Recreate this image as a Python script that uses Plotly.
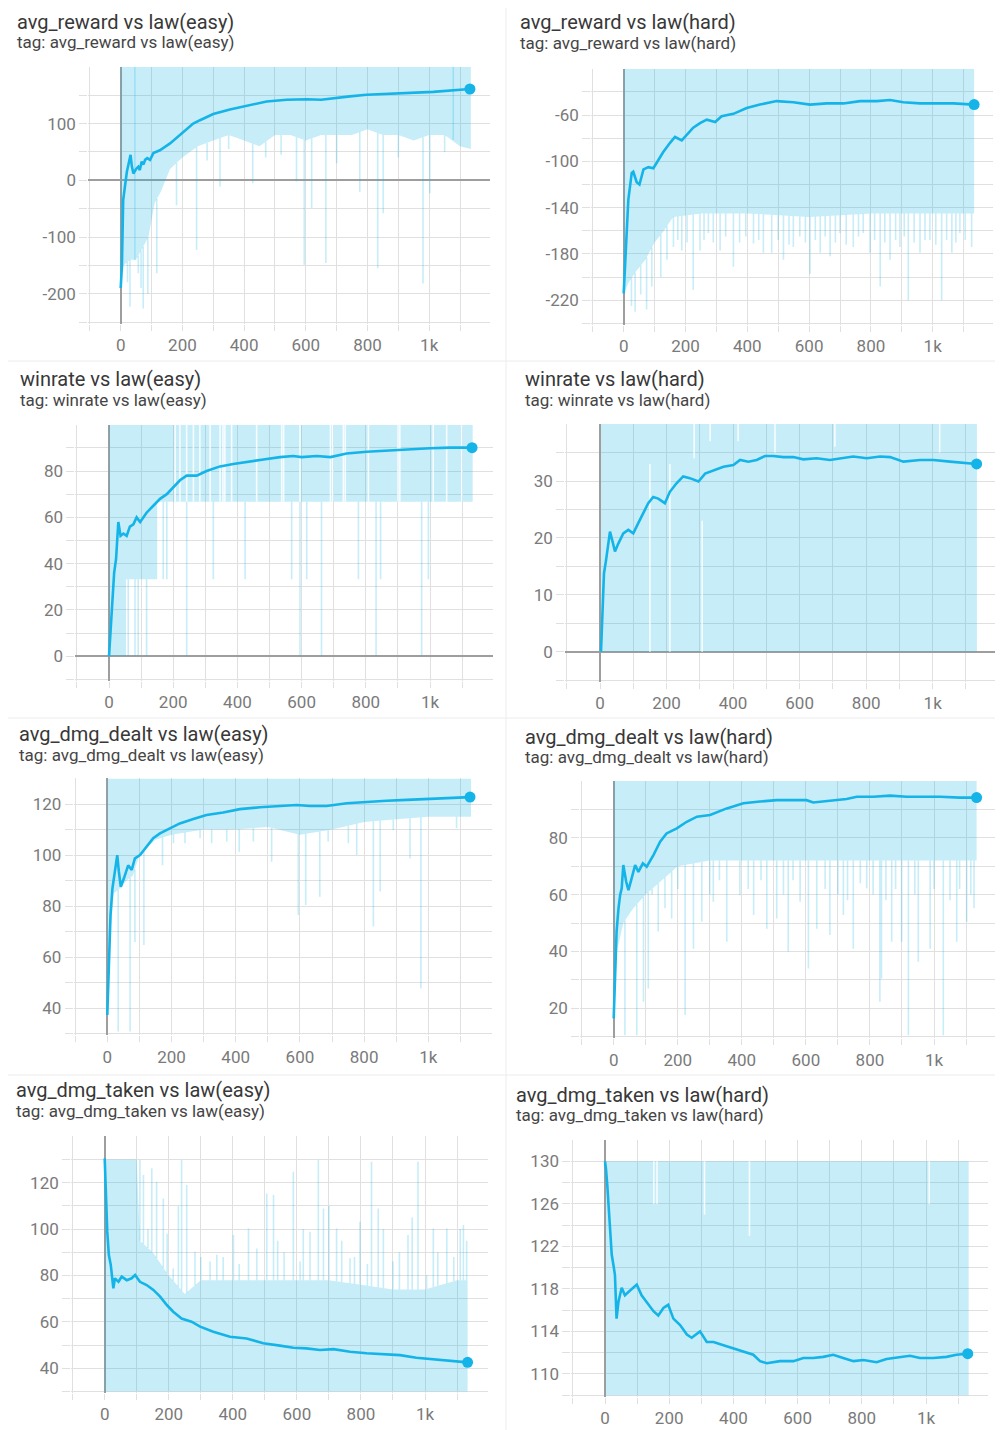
import numpy as np
import plotly.graph_objects as go

PAGE_W, PAGE_H = 1003, 1430
OFF = 8                      # default page margin of the html body
W, H = PAGE_W - OFF, PAGE_H - OFF

# ---------------- shared tick labels ----------------
x_tick_vals = [-100, 0, 100, 200, 300, 400, 500, 600, 700, 800, 900, 1000, 1100]
x_tick_text = ["", "0", "", "200", "", "400", "", "600", "", "800", "", "1k", ""]

# ---------------- 1. avg_reward vs law(easy) ----------------
reward_easy_x = [0, 4, 8, 14, 20, 26, 32, 36, 41, 50, 57, 62, 68, 74, 79, 86, 95, 106, 127, 160,
                 192, 235, 257, 300, 354, 408, 473, 538, 603, 650, 689, 743, 797, 905, 1013, 1132]
reward_easy_y = [-190, -150, -35, -5, 15, 30, 45, 25, 12, 20, 24, 18, 33, 28, 36, 39, 36, 48, 53, 65,
                 80, 100, 106, 117, 125, 131, 139, 142, 143, 142, 144, 148, 151, 154, 156, 161]
reward_easy_band_x = [0, 10, 30, 50, 70, 90, 110, 130, 160, 200, 250, 300, 350, 400, 450, 500, 550,
                      600, 650, 700, 750, 800, 850, 900, 950, 1000, 1050, 1100, 1135]
reward_easy_band_lo = [-190, -150, -140, -140, -120, -100, -40, -20, 20, 40, 60, 70, 80, 70, 60, 80, 80,
                       70, 80, 80, 80, 90, 80, 80, 70, 80, 80, 60, 55]
reward_easy_band_hi = [200] * 29
reward_easy_spike_x = [22, 30, 46, 57, 66, 73, 88, 117, 181, 246, 280, 322, 350, 428, 470, 520, 570, 595,
                       619, 665, 700, 775, 833, 851, 900, 980, 1002, 1050, 1078]
reward_easy_spike_y = [-180, -223, -140, -164, -190, -226, -200, -164, -44, -123, 35, -11, 55, -5, 40, 45,
                       -2, -149, -49, -146, 30, -20, -155, -58, 40, -182, -23, 50, 71]
reward_easy_gap_x, reward_easy_gap_lo, reward_easy_gap_hi = [], [], []
reward_easy_ytick_vals = [-250, -200, -150, -100, -50, 0, 50, 100, 150]
reward_easy_ytick_text = ["", "-200", "", "-100", "", "0", "", "100", ""]

# ---------------- 2. avg_reward vs law(hard) ----------------
reward_hard_x = [0, 4, 10, 15, 26, 31, 42, 51, 64, 80, 96, 112, 128, 150, 166, 188, 204, 225, 247, 269,
                 296, 317, 355, 398, 441, 495, 549, 603, 657, 711, 765, 819, 862, 905, 959, 1013, 1067, 1134]
reward_hard_y = [-214, -191, -162, -133, -110, -109, -118, -120, -107, -105, -106, -99, -92, -84, -79, -82,
                 -77, -71, -67, -64, -66, -61, -59, -54, -51, -48, -49, -51, -50, -50, -48, -48, -47, -49,
                 -50, -50, -50, -51]
reward_hard_band_x = [0, 15, 40, 70, 100, 130, 160, 250, 400, 600, 800, 1000, 1134]
reward_hard_band_lo = [-215, -205, -195, -185, -170, -160, -148, -145, -145, -148, -145, -145, -145]
reward_hard_band_hi = [-20] * 13
reward_hard_spike_x = [25, 37, 55, 74, 91, 120, 140, 161, 175, 188, 205, 225, 247, 260, 274, 290, 312, 330,
                       355, 375, 395, 420, 437, 452, 479, 500, 517, 535, 549, 570, 588, 603, 620, 636, 652,
                       668, 685, 700, 720, 743, 760, 775, 797, 812, 830, 845, 862, 880, 894, 908, 921, 940,
                       959, 975, 991, 1010, 1029, 1045, 1062, 1075, 1088, 1105, 1126]
reward_hard_spike_y = [-225, -230, -215, -228, -208, -200, -185, -174, -168, -177, -170, -211, -177, -168,
                       -162, -170, -177, -165, -191, -170, -165, -171, -168, -179, -179, -168, -185, -172,
                       -174, -165, -170, -197, -168, -179, -165, -182, -170, -162, -172, -174, -165, -162,
                       -179, -168, -208, -170, -185, -168, -174, -165, -220, -170, -179, -168, -168, -172,
                       -220, -168, -179, -170, -162, -168, -174]
reward_hard_gap_x, reward_hard_gap_lo, reward_hard_gap_hi = [], [], []
reward_hard_ytick_vals = [-240, -220, -200, -180, -160, -140, -120, -100, -80, -60, -40]
reward_hard_ytick_text = ["", "-220", "", "-180", "", "-140", "", "-100", "", "-60", ""]

# ---------------- 3. winrate vs law(easy) ----------------
winrate_easy_x = [0, 6, 11, 16, 22, 29, 36, 45, 55, 65, 76, 86, 97, 117, 138, 159, 180, 200, 221, 242,
                  273, 304, 346, 387, 429, 481, 533, 574, 600, 647, 690, 740, 803, 864, 937, 1000, 1062, 1131]
winrate_easy_y = [0, 13, 27, 36, 42, 58, 52, 53, 52, 56, 57, 60, 58, 62, 65, 68, 70, 73, 76, 78,
                  78, 80, 82, 83, 84, 85, 86, 86.5, 86, 86.5, 86, 87.6, 88.3, 88.8, 89.4, 89.8, 90.1, 90.1]
winrate_easy_band_x = [0, 53, 53, 150, 150, 1133]
winrate_easy_band_lo = [0, 0, 33.3, 33.3, 66.7, 66.7]
winrate_easy_band_hi = [100] * 6
winrate_easy_spike_x = [60, 81, 91, 117, 169, 180, 242, 325, 424, 569, 595, 616, 662, 777, 832, 846, 974, 995]
winrate_easy_spike_y = [0, 0, 0, 0, 33.3, 33.3, 0, 33.3, 33.3, 33.3, 0, 33.3, 0, 33.3, 0, 33.3, 0, 33.3]
winrate_easy_gap_x = [206, 221, 242, 263, 283, 315, 346, 355, 361, 382, 460, 538, 544, 595, 690, 697, 730,
                      736, 808, 900, 906, 1010, 1052, 1099]
winrate_easy_gap_lo = [66.7] * 24
winrate_easy_gap_hi = [100] * 24
winrate_easy_ytick_vals = [-10, 0, 10, 20, 30, 40, 50, 60, 70, 80, 90]
winrate_easy_ytick_text = ["", "0", "", "20", "", "40", "", "60", "", "80", ""]

# ---------------- 4. winrate vs law(hard) ----------------
winrate_hard_x = [3, 7, 12, 18, 25, 30, 38, 45, 55, 70, 85, 100, 115, 130, 145, 160, 175, 195, 210, 230,
                  250, 270, 296, 316, 341, 371, 401, 421, 446, 471, 496, 521, 551, 581, 611, 651, 691, 721,
                  761, 802, 842, 872, 912, 962, 1002, 1052, 1102, 1132]
winrate_hard_y = [0, 6.7, 13.8, 16, 19.6, 21.1, 19.3, 17.6, 19, 20.8, 21.4, 20.8, 22.6, 24.3, 26.1, 27.2,
                  26.9, 26.1, 28.1, 29.6, 30.8, 30.5, 29.9, 31.3, 31.9, 32.5, 32.8, 33.7, 33.4, 33.7, 34.4,
                  34.4, 34.2, 34.2, 33.8, 34, 33.7, 34, 34.3, 34, 34.3, 34.2, 33.4, 33.7, 33.7, 33.4, 33.1, 33]
winrate_hard_band_x = [3, 1133]
winrate_hard_band_lo = [0, 0]
winrate_hard_band_hi = [40, 40]
winrate_hard_spike_x, winrate_hard_spike_y = [], []
winrate_hard_gap_x = [150, 210, 283, 307, 331, 415, 526, 706, 1021]
winrate_hard_gap_lo = [0, 0, 34, 0, 37, 37, 35, 36, 35]
winrate_hard_gap_hi = [33, 33, 40, 23, 40, 40, 40, 40, 40]
winrate_hard_ytick_vals = [-5, 0, 5, 10, 15, 20, 25, 30, 35]
winrate_hard_ytick_text = ["", "0", "", "10", "", "20", "", "30", ""]

# ---------------- 5. avg_dmg_dealt vs law(easy) ----------------
dealt_easy_x = [0, 5, 10, 16, 24, 31, 36, 42, 52, 65, 76, 86, 102, 122, 143, 164, 195, 226, 268, 309,
                361, 413, 475, 537, 590, 631, 683, 746, 808, 870, 933, 995, 1057, 1130]
dealt_easy_y = [37.4, 57, 76.5, 87, 94.8, 100, 93.5, 87.6, 91, 96, 94.2, 98.7, 100, 103.3, 106.6, 108.5,
                110.5, 112.4, 114.1, 115.7, 116.7, 118, 118.7, 119.3, 119.6, 119.2, 119.2, 120.3, 120.9,
                121.3, 121.6, 122, 122.2, 122.7]
dealt_easy_band_x = [0, 10, 20, 40, 60, 80, 100, 150, 200, 300, 400, 500, 600, 700, 800, 900, 1000, 1100, 1133]
dealt_easy_band_lo = [37, 70, 85, 87, 90, 92, 100, 106, 108, 110, 110, 111, 108, 110, 113, 114, 115, 115, 115]
dealt_easy_band_hi = [130] * 19
dealt_easy_spike_x = [34, 71, 86, 114, 172, 206, 242, 289, 325, 372, 411, 455, 512, 595, 618, 662, 688,
                      751, 777, 829, 850, 891, 943, 977, 1088]
dealt_easy_spike_y = [30.9, 30.9, 66, 64.8, 96, 104.6, 104.6, 106.6, 104.6, 105.3, 101.3, 105.3, 97.4,
                      76.5, 80.5, 83.7, 105.3, 104.6, 100, 72, 85.7, 109.8, 98.7, 47.8, 110.5]
dealt_easy_gap_x, dealt_easy_gap_lo, dealt_easy_gap_hi = [], [], []
dealt_easy_ytick_vals = [30, 40, 50, 60, 70, 80, 90, 100, 110, 120]
dealt_easy_ytick_text = ["", "40", "", "60", "", "80", "", "100", "", "120"]

# ---------------- 6. avg_dmg_dealt vs law(hard) ----------------
dealt_hard_x = [0, 4, 9, 15, 20, 25, 30, 39, 46, 56, 67, 77, 91, 103, 124, 145, 165, 197, 228, 260,
                301, 353, 405, 457, 509, 561, 602, 623, 675, 727, 759, 811, 863, 915, 967, 1019, 1081, 1133]
dealt_hard_y = [16.5, 29.4, 47, 55.2, 59.8, 62.2, 70.4, 64.5, 61.6, 65.7, 70.4, 68, 71, 69.8, 73.9, 78.6,
                81.5, 83.3, 85.6, 87.4, 88, 90.3, 92.1, 92.7, 93.2, 93.2, 93.2, 92.4, 92.9, 93.6, 94.4,
                94.4, 94.8, 94.4, 94.4, 94.4, 94.1, 94.1]
dealt_hard_band_x = [0, 10, 30, 60, 100, 150, 200, 300, 1133]
dealt_hard_band_lo = [16, 40, 50, 55, 60, 65, 70, 72, 72]
dealt_hard_band_hi = [100] * 9
dealt_hard_spike_x = [35, 72, 93, 108, 120, 139, 160, 181, 200, 223, 249, 275, 300, 311, 330, 353, 394, 420,
                      437, 460, 478, 509, 530, 545, 560, 582, 608, 634, 660, 675, 700, 717, 730, 748, 770,
                      790, 810, 831, 836, 850, 868, 880, 899, 920, 940, 951, 988, 1000, 1029, 1050, 1071,
                      1080, 1102, 1115, 1125]
dealt_hard_spike_y = [10.6, 10.6, 22.3, 27, 60, 47, 55.2, 51.6, 62, 17.7, 41, 50.5, 60, 57.5, 65, 43.4,
                      59.8, 62, 52.8, 65, 48, 51.6, 60, 40, 65, 57.5, 34, 48, 62, 45.8, 60, 52.8, 58, 41,
                      64, 62.2, 60, 22.3, 30.5, 58, 43.4, 62, 43.4, 10.6, 60, 36.4, 41, 62, 10.6, 58,
                      43.4, 62, 50.5, 60, 55.2]
dealt_hard_gap_x, dealt_hard_gap_lo, dealt_hard_gap_hi = [], [], []
dealt_hard_ytick_vals = [10, 20, 30, 40, 50, 60, 70, 80, 90]
dealt_hard_ytick_text = ["", "20", "", "40", "", "60", "", "80", ""]

# ---------------- 7. avg_dmg_taken vs law(easy) ----------------
taken_easy_x = [0, 4, 8, 13, 19, 27, 32, 43, 53, 69, 84, 95, 110, 131, 152, 173, 194, 214, 240, 271,
                298, 339, 391, 443, 495, 547, 589, 630, 672, 714, 766, 818, 870, 922, 973, 1026, 1078, 1133]
taken_easy_y = [130.5, 111.8, 98.9, 88.8, 84.5, 74.5, 78.8, 77.3, 79.5, 78, 78.8, 80.2, 77.3, 75.9, 73.8,
                70.9, 67.3, 64.4, 61.5, 60.1, 58, 55.8, 53.6, 52.9, 50.8, 49.8, 48.9, 48.6, 47.9, 48.3,
                47.2, 46.5, 46, 45.7, 44.6, 44, 43.2, 42.6]
taken_easy_band_x = [0, 100, 110, 150, 200, 250, 300, 400, 500, 600, 700, 800, 900, 1000, 1100, 1133]
taken_easy_band_hi = [130, 130, 95, 90, 80, 72, 78, 78, 78, 78, 78, 76, 74, 74, 78, 78]
taken_easy_band_lo = [30] * 16
taken_easy_spike_x = [110, 121, 135, 147, 162, 183, 195, 214, 230, 240, 256, 282, 300, 329, 350, 370, 402,
                      420, 449, 475, 506, 527, 540, 560, 589, 610, 620, 641, 667, 683, 700, 724, 740, 766,
                      780, 797, 820, 833, 854, 870, 900, 920, 947, 960, 978, 1005, 1026, 1040, 1068, 1090,
                      1110, 1120, 1130]
taken_easy_spike_y = [129.8, 123.3, 100, 126.2, 120.4, 113.2, 98, 83, 110, 129.8, 119, 90.3, 88, 86, 89, 88,
                      97.5, 85, 100.3, 91.7, 115.4, 114.7, 95, 90, 124.7, 86, 100, 98.9, 129.8, 108.9, 110,
                      100.3, 95, 87.4, 88, 103.2, 85, 129, 108.9, 100, 86, 90, 97.5, 105, 129, 80.2, 100.3,
                      90, 100.3, 88, 100, 101.8, 95]
taken_easy_gap_x, taken_easy_gap_lo, taken_easy_gap_hi = [], [], []
taken_easy_ytick_vals = [30, 40, 50, 60, 70, 80, 90, 100, 110, 120, 130]
taken_easy_ytick_text = ["", "40", "", "60", "", "80", "", "100", "", "120", ""]

# ---------------- 8. avg_dmg_taken vs law(hard) ----------------
taken_hard_x = [0, 3, 7, 11, 16, 21, 26, 31, 36, 42, 52, 62, 73, 88, 99, 114, 130, 151, 166, 182, 197,
                213, 234, 255, 270, 296, 317, 338, 369, 400, 431, 462, 483, 504, 545, 587, 618, 649, 680,
                711, 742, 774, 805, 846, 877, 919, 950, 981, 1023, 1064, 1095, 1130]
taken_hard_y = [130, 129.3, 127.8, 125.6, 123.7, 121.2, 120.3, 119.3, 115.2, 116.8, 118.1, 117.4, 117.7,
                118.1, 118.4, 117.4, 116.8, 115.9, 115.5, 116.2, 116.5, 115.2, 114.6, 113.7, 113.4, 114,
                113, 113, 112.7, 112.4, 112.1, 111.8, 111.2, 111, 111.2, 111.2, 111.5, 111.5, 111.6, 111.8,
                111.5, 111.2, 111.3, 111.1, 111.4, 111.6, 111.7, 111.5, 111.5, 111.6, 111.8, 111.9]
taken_hard_band_x = [3, 1133]
taken_hard_band_lo = [108, 108]
taken_hard_band_hi = [130, 130]
taken_hard_spike_x, taken_hard_spike_y = [], []
taken_hard_gap_x = [152, 162, 310, 450, 1010]
taken_hard_gap_lo = [126, 126, 125, 123, 126]
taken_hard_gap_hi = [130, 130, 130, 130, 130]
taken_hard_ytick_vals = [108, 110, 112, 114, 116, 118, 120, 122, 124, 126, 128, 130]
taken_hard_ytick_text = ["", "110", "", "114", "", "118", "", "122", "", "126", "", "130"]

# ---------------- panel layout (pixel geometry on the page) ----------------
panels = [
    dict(title="avg_reward vs law(easy)", tag="tag: avg_reward vs law(easy)",
         sx=reward_easy_x, sy=reward_easy_y, bx=reward_easy_band_x, blo=reward_easy_band_lo,
         bhi=reward_easy_band_hi, kx=reward_easy_spike_x, ky=reward_easy_spike_y,
         gx=reward_easy_gap_x, glo=reward_easy_gap_lo, ghi=reward_easy_gap_hi,
         tv=reward_easy_ytick_vals, tt=reward_easy_ytick_text,
         x0=120.7, kxs=0.3085, xr=[-100, 1196], yv=0, ypx=180.3, kys=0.567, yr=[-250, 200],
         tpos=(15, 22.5, 42.5)),
    dict(title="avg_reward vs law(hard)", tag="tag: avg_reward vs law(hard)",
         sx=reward_hard_x, sy=reward_hard_y, bx=reward_hard_band_x, blo=reward_hard_band_lo,
         bhi=reward_hard_band_hi, kx=reward_hard_spike_x, ky=reward_hard_spike_y,
         gx=reward_hard_gap_x, glo=reward_hard_gap_lo, ghi=reward_hard_gap_hi,
         tv=reward_hard_ytick_vals, tt=reward_hard_ytick_text,
         x0=623.7, kxs=0.309, xr=[-100, 1195], yv=-60, ypx=115, kys=1.158, yr=[-240, -20],
         tpos=(518, 22.5, 43)),
    dict(title="winrate vs law(easy)", tag="tag: winrate vs law(easy)",
         sx=winrate_easy_x, sy=winrate_easy_y, bx=winrate_easy_band_x, blo=winrate_easy_band_lo,
         bhi=winrate_easy_band_hi, kx=winrate_easy_spike_x, ky=winrate_easy_spike_y,
         gx=winrate_easy_gap_x, glo=winrate_easy_gap_lo, ghi=winrate_easy_gap_hi,
         tv=winrate_easy_ytick_vals, tt=winrate_easy_ytick_text,
         x0=109, kxs=0.321, xr=[-100, 1195], yv=0, ypx=656.3, kys=2.316, yr=[-10, 100],
         tpos=(18, 379, 400)),
    dict(title="winrate vs law(hard)", tag="tag: winrate vs law(hard)",
         sx=winrate_hard_x, sy=winrate_hard_y, bx=winrate_hard_band_x, blo=winrate_hard_band_lo,
         bhi=winrate_hard_band_hi, kx=winrate_hard_spike_x, ky=winrate_hard_spike_y,
         gx=winrate_hard_gap_x, glo=winrate_hard_gap_lo, ghi=winrate_hard_gap_hi,
         tv=winrate_hard_ytick_vals, tt=winrate_hard_ytick_text,
         x0=600, kxs=0.3327, xr=[-100, 1197], yv=0, ypx=651.7, kys=5.69, yr=[-5, 40],
         tpos=(523, 379, 400)),
    dict(title="avg_dmg_dealt vs law(easy)", tag="tag: avg_dmg_dealt vs law(easy)",
         sx=dealt_easy_x, sy=dealt_easy_y, bx=dealt_easy_band_x, blo=dealt_easy_band_lo,
         bhi=dealt_easy_band_hi, kx=dealt_easy_spike_x, ky=dealt_easy_spike_y,
         gx=dealt_easy_gap_x, glo=dealt_easy_gap_lo, ghi=dealt_easy_gap_hi,
         tv=dealt_easy_ytick_vals, tt=dealt_easy_ytick_text,
         x0=107.3, kxs=0.321, xr=[-100, 1197], yv=120, ypx=804, kys=2.554, yr=[30, 130],
         tpos=(17, 734, 754.5)),
    dict(title="avg_dmg_dealt vs law(hard)", tag="tag: avg_dmg_dealt vs law(hard)",
         sx=dealt_hard_x, sy=dealt_hard_y, bx=dealt_hard_band_x, blo=dealt_hard_band_lo,
         bhi=dealt_hard_band_hi, kx=dealt_hard_spike_x, ky=dealt_hard_spike_y,
         gx=dealt_hard_gap_x, glo=dealt_hard_gap_lo, ghi=dealt_hard_gap_hi,
         tv=dealt_hard_ytick_vals, tt=dealt_hard_ytick_text,
         x0=613.7, kxs=0.3203, xr=[-100, 1200], yv=80, ypx=837.7, kys=2.845, yr=[10, 100],
         tpos=(523, 737, 757)),
    dict(title="avg_dmg_taken vs law(easy)", tag="tag: avg_dmg_taken vs law(easy)",
         sx=taken_easy_x, sy=taken_easy_y, bx=taken_easy_band_x, blo=taken_easy_band_lo,
         bhi=taken_easy_band_hi, kx=taken_easy_spike_x, ky=taken_easy_spike_y,
         gx=taken_easy_gap_x, glo=taken_easy_gap_lo, ghi=taken_easy_gap_hi,
         tv=taken_easy_ytick_vals, tt=taken_easy_ytick_text,
         x0=104.7, kxs=0.3203, xr=[-100, 1198], yv=120, ypx=1182.7, kys=2.321, yr=[30, 140],
         tpos=(14, 1090, 1111)),
    dict(title="avg_dmg_taken vs law(hard)", tag="tag: avg_dmg_taken vs law(hard)",
         sx=taken_hard_x, sy=taken_hard_y, bx=taken_hard_band_x, blo=taken_hard_band_lo,
         bhi=taken_hard_band_hi, kx=taken_hard_spike_x, ky=taken_hard_spike_y,
         gx=taken_hard_gap_x, glo=taken_hard_gap_lo, ghi=taken_hard_gap_hi,
         tv=taken_hard_ytick_vals, tt=taken_hard_ytick_text,
         x0=605, kxs=0.321, xr=[-100, 1194], yv=130, ypx=1161.3, kys=10.63, yr=[108, 132],
         tpos=(514, 1095, 1115)),
]

LINE = "#14b4e8"
BAND = "rgba(20,180,232,0.24)"
GAP = "rgba(255,255,255,0.85)"
GRID = "#e0e0e0"
ZERO = "#9e9e9e"
TICKFONT = dict(family="Roboto", size=17, color="#7a7a7a")


def px_x(v):
    return (v - OFF) / W


def px_y(v):
    return 1 - (v - OFF) / H


fig = go.Figure()
layout = dict(width=W, height=H, margin=dict(l=0, r=0, t=0, b=0, pad=0), autosize=False,
              paper_bgcolor="white", plot_bgcolor="white", showlegend=False,
              annotations=[], shapes=[])

for i, p in enumerate(panels, start=1):
    xa = "x" if i == 1 else f"x{i}"
    ya = "y" if i == 1 else f"y{i}"
    pad_x = 1.5 / p["kxs"]
    pad_y = 1.5 / p["kys"]
    xr = [p["xr"][0] - pad_x, p["xr"][1]]
    yr = [p["yr"][0] - pad_y, p["yr"][1]]
    left = p["x0"] + xr[0] * p["kxs"]
    right = p["x0"] + xr[1] * p["kxs"]
    top = p["ypx"] - (yr[1] - p["yv"]) * p["kys"]
    bottom = p["ypx"] + (p["yv"] - yr[0]) * p["kys"]

    common = dict(showgrid=True, gridcolor=GRID, gridwidth=1, zeroline=True, zerolinecolor=ZERO,
                  zerolinewidth=2, ticks="outside", tickcolor=GRID, tickwidth=1, showline=False,
                  tickfont=TICKFONT, fixedrange=True, tickmode="array")
    layout["xaxis" if i == 1 else f"xaxis{i}"] = dict(
        common, domain=[px_x(left), px_x(right)], range=xr, anchor=ya,
        tickvals=x_tick_vals, ticktext=x_tick_text, ticklen=6)
    layout["yaxis" if i == 1 else f"yaxis{i}"] = dict(
        common, domain=[px_y(bottom), px_y(top)], range=yr, anchor=xa,
        tickvals=p["tv"], ticktext=p["tt"], ticklen=8)

    # raw-data band
    bx = np.asarray(p["bx"], float)
    blo = np.asarray(p["blo"], float)
    bhi = np.asarray(p["bhi"], float)
    fig.add_trace(go.Scatter(x=np.concatenate([bx, bx[::-1]]), y=np.concatenate([bhi, blo[::-1]]),
                             mode="lines", line=dict(width=0), fill="toself", fillcolor=BAND,
                             hoverinfo="skip", xaxis=xa, yaxis=ya))
    # raw-data spikes beyond the band
    kx, ky = [], []
    for sxv, syv in zip(p["kx"], p["ky"]):
        lo = np.interp(sxv, bx, blo)
        hi = np.interp(sxv, bx, bhi)
        base = lo if syv < lo else hi
        kx += [sxv, sxv, None]
        ky += [base, syv, None]
    if kx:
        fig.add_trace(go.Scatter(x=kx, y=ky, mode="lines", line=dict(color=BAND, width=1.6),
                                 hoverinfo="skip", xaxis=xa, yaxis=ya))
    # gaps inside the band
    gx, gy = [], []
    for gxv, glo, ghi in zip(p["gx"], p["glo"], p["ghi"]):
        gx += [gxv, gxv, None]
        gy += [glo, ghi, None]
    if gx:
        fig.add_trace(go.Scatter(x=gx, y=gy, mode="lines", line=dict(color=GAP, width=1.6),
                                 hoverinfo="skip", xaxis=xa, yaxis=ya))
    # smoothed line + last-point marker
    fig.add_trace(go.Scatter(x=p["sx"], y=p["sy"], mode="lines",
                             line=dict(color=LINE, width=2.6), xaxis=xa, yaxis=ya))
    fig.add_trace(go.Scatter(x=[p["sx"][-1]], y=[p["sy"][-1]], mode="markers",
                             marker=dict(color=LINE, size=11), xaxis=xa, yaxis=ya))

    tx, ty, sy_ = p["tpos"]
    layout["annotations"].append(dict(text=p["title"], x=px_x(tx), y=px_y(ty), xref="paper", yref="paper",
                                      xanchor="left", yanchor="middle", showarrow=False,
                                      font=dict(family="Roboto", size=20, color="#383838")))
    layout["annotations"].append(dict(text=p["tag"], x=px_x(tx), y=px_y(sy_), xref="paper", yref="paper",
                                      xanchor="left", yanchor="middle", showarrow=False,
                                      font=dict(family="Roboto", size=17, color="#454545")))

# faint panel separators
for yy in [361, 718, 1075]:
    layout["shapes"].append(dict(type="line", xref="paper", yref="paper", x0=0, x1=1,
                                 y0=px_y(yy), y1=px_y(yy), line=dict(color="#ececec", width=1)))
layout["shapes"].append(dict(type="line", xref="paper", yref="paper", x0=px_x(506), x1=px_x(506),
                             y0=0, y1=1, line=dict(color="#ececec", width=1)))

fig.update_layout(**layout)
fig.write_html("out.html")
